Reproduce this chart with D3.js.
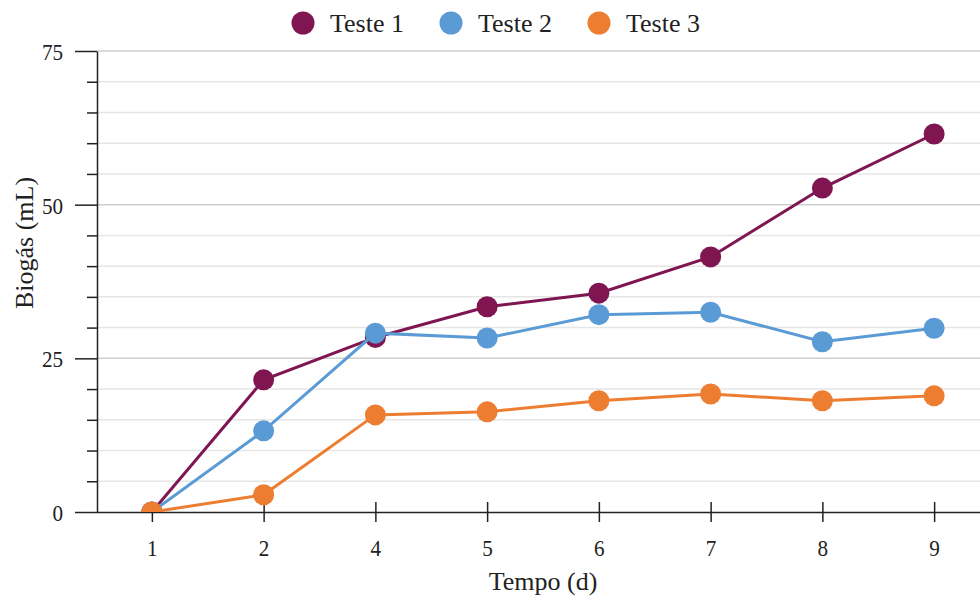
<!DOCTYPE html>
<html><head><meta charset="utf-8">
<script src="https://cdn.jsdelivr.net/npm/d3@7"></script>
<style>body{margin:0;background:#fff}svg{display:block}text{font-family:"Liberation Serif","DejaVu Serif",serif;fill:#222}</style>
</head><body><svg id="c" width="980" height="596"></svg>
<script>
const categories = ["1","2","4","5","6","7","8","9"];
const teste1 = [0, 21.5, 28.4, 33.4, 35.6, 41.5, 52.7, 61.5];
const teste2 = [0, 13.2, 29.1, 28.3, 32.1, 32.5, 27.7, 29.9];
const teste3 = [0, 2.8, 15.8, 16.3, 18.1, 19.2, 18.1, 18.9];
const seriesNames = ["Teste 1","Teste 2","Teste 3"];
const colors = ["#7f1652","#5b9bd5","#ed7d31"];
const yMajorTicks = [0,25,50,75];
const yMinorTicks = d3.range(0,76,5);

const svg = d3.select("#c");
const x = d3.scalePoint().domain(categories).range([96, 990]).padding(0.5);
const y = d3.scaleLinear().domain([0,75]).range([512, 51]);

// gridlines
svg.append("g").selectAll("line").data(yMinorTicks.filter(d=>d>0)).join("line")
  .attr("x1", 97).attr("x2", 980).attr("y1", d=>y(d)).attr("y2", d=>y(d))
  .attr("stroke", d=> d%25===0 ? "#cfcfcf" : "#e6e6e6").attr("stroke-width", 1.5);

// y minor ticks
const yMinor = svg.append("g").attr("transform","translate(97,0)")
  .call(d3.axisLeft(y).tickValues(yMinorTicks.filter(d=>d%25!==0)).tickSize(10).tickFormat(""));
yMinor.select(".domain").remove();
yMinor.selectAll("line").attr("stroke","#222").attr("stroke-width",1.5);

// y major
const yAx = svg.append("g").attr("transform","translate(97,0)")
  .call(d3.axisLeft(y).tickValues(yMajorTicks).tickSize(22).tickPadding(12).tickSizeOuter(0));
yAx.select(".domain").attr("stroke","#222").attr("stroke-width",1.5);
yAx.selectAll(".tick line").attr("stroke","#222").attr("stroke-width",1.5);
yAx.selectAll("text").attr("font-size",24).attr("dy","0.36em").style("font-family",'"Liberation Serif",serif').attr("fill","#333")
  .attr("transform","scale(0.88,1)").attr("x",-38.6);

// x axis
const xAx = svg.append("g").attr("transform","translate(0,512)")
  .call(d3.axisBottom(x).tickSize(10).tickPadding(16).tickSizeOuter(0));
xAx.select(".domain").attr("d","M97,0.5H980").attr("stroke","#222").attr("stroke-width",1.5);
xAx.selectAll(".tick line").attr("y1",-10).attr("y2",10).attr("stroke","#222").attr("stroke-width",1.5);
xAx.selectAll("text").attr("font-size",24).attr("dy",0).attr("y",44).attr("transform","scale(0.88,1)")
  .style("font-family",'"Liberation Serif",serif').attr("fill","#333");

// titles
svg.append("text").attr("x",543).attr("y",590).attr("text-anchor","middle").attr("font-size",26).text("Tempo (d)");
svg.append("text").attr("transform","translate(33,243) rotate(-90)").attr("text-anchor","middle").attr("font-size",26).text("Biogás (mL)");

// clip
svg.append("clipPath").attr("id","clip").append("rect").attr("x",97).attr("y",0).attr("width",883).attr("height",512);

const data = [teste1, teste2, teste3];
const line = d3.line().x((d,i)=>x(categories[i])).y(d=>y(d));
const plot = svg.append("g").attr("clip-path","url(#clip)");
data.forEach((vals, s) => {
  const g = plot.append("g");
  g.append("path").datum(vals).attr("d", line).attr("fill","none")
    .attr("stroke", colors[s]).attr("stroke-width", 3);
  g.selectAll("circle").data(vals).join("circle")
    .attr("cx",(d,i)=>x(categories[i])).attr("cy",d=>y(d)).attr("r",10.5)
    .attr("fill",colors[s]);
});

// legend
const legX = [303, 451, 599];
const leg = svg.append("g");
seriesNames.forEach((n,i)=>{
  leg.append("circle").attr("cx",legX[i]).attr("cy",23).attr("r",11.5).attr("fill",colors[i]);
  leg.append("text").attr("x",legX[i]+27).attr("y",32).attr("font-size",26).text(n);
});
</script></body></html>
